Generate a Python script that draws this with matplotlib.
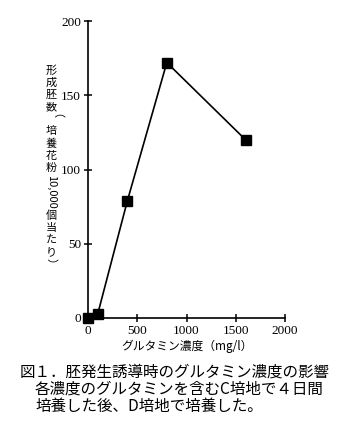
"""Fig.1: glutamine concentration vs. embryo formation."""
import matplotlib
matplotlib.use("Agg")
import matplotlib.pyplot as plt

# data
glutamine_mg_l = [0, 100, 400, 800, 1600]
embryos = [0, 3, 79, 172, 120]
x_ticks = [0, 500, 1000, 1500, 2000]
y_ticks = [0, 50, 100, 150, 200]

xlabel = "グルタミン濃度（mg/l）"
# vertical y label: (text, rotated?)
ylabel_parts = [("形", False), ("成", False), ("胚", False), ("数", False),
                ("（", True), ("培", False), ("養", False), ("花", False),
                ("粉", False), ("10,000", True), ("個", False), ("当", False),
                ("た", False), ("り", False), ("）", True)]
caption = [
    "図１．胚発生誘導時のグルタミン濃度の影響",
    "各濃度のグルタミンを含むC培地で４日間",
    "培養した後、D培地で培養した。",
]

JP = ["Noto Sans CJK JP", "DejaVu Sans"]
plt.rcParams["font.family"] = ["Liberation Serif", "DejaVu Serif"]

W, H = 352, 430
fig = plt.figure(figsize=(W / 100, H / 100), dpi=100)
fig.patch.set_facecolor("white")

# axes box in pixel coordinates (from top-left)
left, right, top, bottom = 88, 285, 21, 318
ax = fig.add_axes([left / W, 1 - bottom / H, (right - left) / W, (bottom - top) / H])

ax.plot(glutamine_mg_l, embryos, color="black", lw=1.2, marker="s",
        markersize=6.5, markerfacecolor="black", markeredgecolor="black",
        clip_on=False, zorder=3)

ax.set_xlim(0, 2000)
ax.set_ylim(0, 200)
ax.set_xticks(x_ticks)
ax.set_yticks(y_ticks)
ax.tick_params(direction="inout", length=6, width=1.1, pad=2, labelsize=9.5)
for s in ("top", "right"):
    ax.spines[s].set_visible(False)
for s in ("left", "bottom"):
    ax.spines[s].set_linewidth(1.2)

ax.set_xlabel(xlabel, fontfamily=JP, fontsize=8.5, labelpad=2)


def px(x, y):
    return x / W, 1 - y / H


# stacked vertical y label
fig.canvas.draw()
renderer = fig.canvas.get_renderer()
cursor = 64
step = 12.3
for txt, rot in ylabel_parts:
    if rot:
        t = fig.text(*px(51, cursor), txt, rotation=270, ha="center", va="top",
                     fontfamily=JP, fontsize=8)
        h = t.get_window_extent(renderer).height
        t.set_va("center")
        t.set_position(px(51, cursor + h / 2))
        cursor += h + 1
    else:
        fig.text(*px(51, cursor + step / 2), txt, ha="center", va="center",
                 fontfamily=JP, fontsize=8)
        cursor += step

# caption
fig.text(*px(20, 372), caption[0], ha="left", va="center", fontfamily=JP, fontsize=11.2)
fig.text(*px(35, 389), caption[1], ha="left", va="center", fontfamily=JP, fontsize=11.2)
fig.text(*px(35, 406), caption[2], ha="left", va="center", fontfamily=JP, fontsize=11.2)

fig.savefig("out.png", dpi=100)
